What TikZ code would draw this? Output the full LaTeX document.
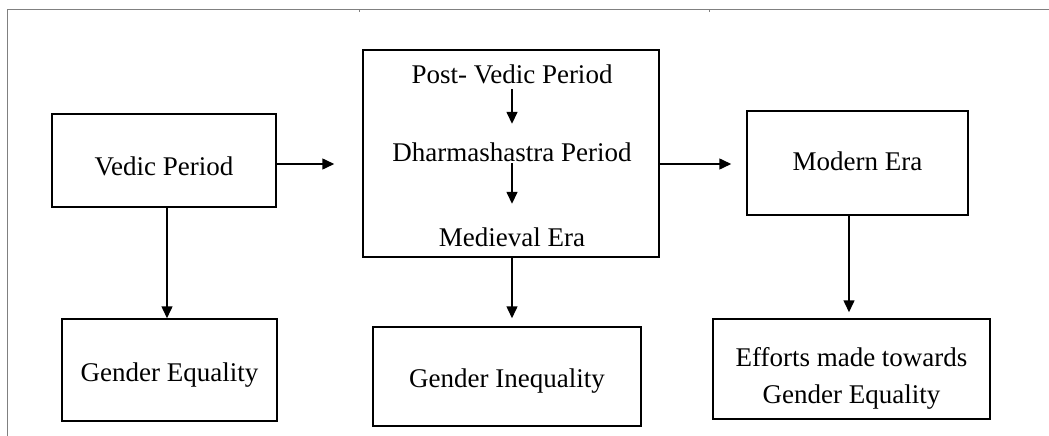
\documentclass[tikz,border=0pt]{standalone}
\usepackage{fontspec}
\setmainfont{Liberation Serif}
\usetikzlibrary{arrows.meta}

\begin{document}
\begin{tikzpicture}[x=1pt, y=-1pt, node distance=210pt]
    \tikzstyle{block} = [rectangle, draw, line width=1.5pt, align=center, inner sep=0pt, font=\fontsize{27}{37}\selectfont, text height=25pt, text depth=3pt]
    \tikzstyle{period} = [inner sep=0pt, font=\fontsize{27}{37}\selectfont, text height=19pt, text depth=6pt]
    \tikzstyle{arrow} = [line width=1.5pt, -{Triangle[length=12pt,width=11pt]}]
    \tikzstyle{frame} = [draw=gray, line width=1pt]

    \useasboundingbox (0,0) rectangle (1049,436);
    % table border behind the chart
    \draw [frame] (1049,9.5) -- (7.5,9.5) -- (7.5,436);
    \draw [frame] (359,9.5) -- (359,12);
    \draw [frame] (709,9.5) -- (709,12);

    \node (vedic) [block, minimum width=224pt, minimum height=93pt, text height=30pt, text depth=1pt] at (164,160.5) {Vedic Period};
    \node (later) [block, minimum width=296pt, minimum height=207pt] at (511,153.5) {};
    \node (modern) [block, minimum width=221pt, minimum height=104pt, text height=18pt] at (857.5,163) {Modern Era};

    \node (postvedic) [period] at (512,76.5) {Post- Vedic Period};
    \node (dharma) [period, node distance=78pt, below of=postvedic] {Dharmashastra Period};
    \node (medieval) [period, node distance=85pt, below of=dharma] {Medieval Era};

    \node (equality) [block, node distance=209.5pt, below of=vedic, xshift=5.5pt, minimum width=215pt, minimum height=102pt] {Gender Equality};
    \node (inequality) [block, node distance=223pt, below of=later, xshift=-4pt, minimum width=268pt, minimum height=99pt] {Gender Inequality};
    \node (efforts) [block, node distance=206pt, below of=modern, xshift=-6pt, minimum width=277pt, minimum height=100pt, text height=71pt] {Efforts made towards\\ Gender Equality};

    \draw [arrow, shorten >=18pt] (postvedic) -- (dharma);
    \draw [arrow, shorten <=-4pt, shorten >=23pt] (dharma) -- (medieval);

    \draw [arrow, shorten >=28pt] (vedic.east |- 0,164) -- (later.west |- 0,164);
    \draw [arrow, shorten >=15pt] (later.east |- 0,164) -- (modern.west |- 0,164);

    \draw [arrow] ([xshift=3pt]vedic.south) -- ([xshift=3pt]vedic.south |- equality.north);
    \draw [arrow, shorten >=8pt] (medieval |- later.south) -- (medieval |- inequality.north);
    \draw [arrow, shorten >=6pt] ([xshift=-2.5pt]modern.south -| efforts.north) -- ([xshift=-2.5pt]efforts.north);

\end{tikzpicture}
\end{document}
